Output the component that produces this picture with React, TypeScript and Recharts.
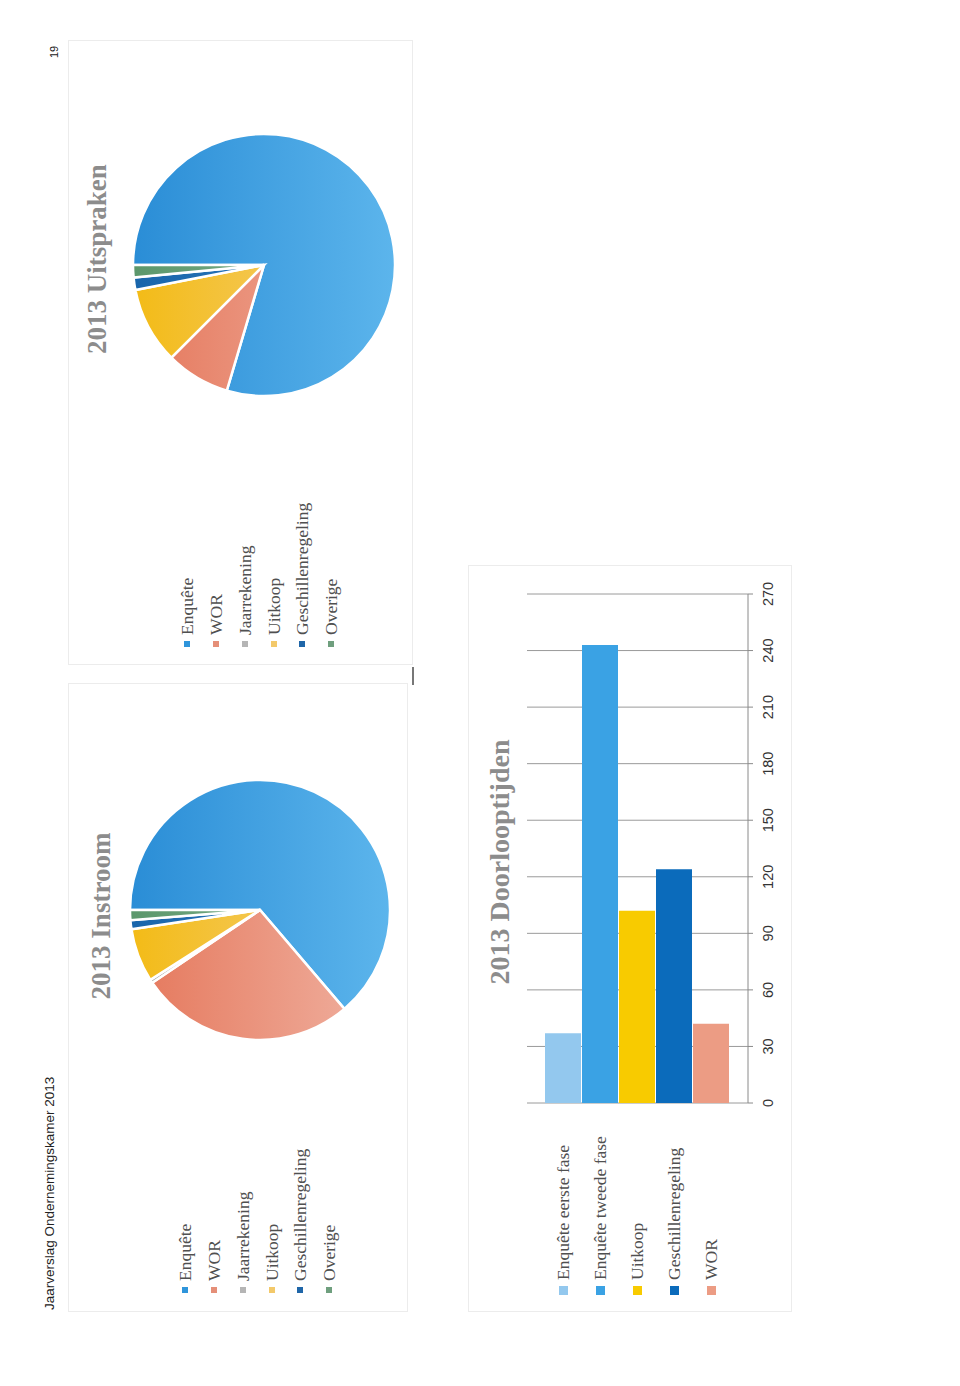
import React from 'react';
import { PieChart, Pie, Cell, BarChart, Bar, XAxis, YAxis, CartesianGrid } from 'recharts';

// ---------- data ----------
const pieCategories = ['Enquête', 'WOR', 'Jaarrekening', 'Uitkoop', 'Geschillenregeling', 'Overige'];
const instroomValues = [229.5, 96.5, 1.5, 24, 4, 4.5];
const uitsprakenValues = [286.5, 28.5, 0, 34, 5.5, 5.5];
const pieColorsDark = ['#2a8dd6', '#e5775b', '#a6a6a6', '#f3bb16', '#1865ab', '#5b976b'];
const pieColorsLight = ['#5cb5ec', '#f0b3a3', '#cccccc', '#f5d184', '#3a82c2', '#8fbb9b'];
const pieLegendColors = ['#2f95db', '#e58f78', '#b5b5b5', '#f3c96a', '#1f66a8', '#6f9f7e'];

const barSeries = ['Enquête eerste fase', 'Enquête tweede fase', 'Uitkoop', 'Geschillenregeling', 'WOR'];
const barValues = [37, 243, 102, 124, 42];
const barColors = ['#93c8ee', '#3aa2e4', '#f8cb00', '#0b6bbb', '#ec9c84'];
const valueTicks = [0, 30, 60, 90, 120, 150, 180, 210, 240, 270];

const headerText = 'Jaarverslag Ondernemingskamer 2013';
const pageNumber = '19';
const titles = ['2013 Instroom', '2013 Uitspraken', '2013 Doorlooptijden'];

// ---------- helpers ----------
const SERIF = '"Liberation Serif", "DejaVu Serif", serif';
const SANS = '"Liberation Sans", Arial, sans-serif';

type PieProps = { id: string; values: number[]; cx: number; cy: number; r: number; w: number; h: number };

function PieBlock({ id, values, cx, cy, r, w, h }: PieProps) {
  const data = pieCategories.map((name, i) => ({ name, value: values[i] }));
  return (
    <PieChart width={w} height={h} margin={{ top: 0, right: 0, bottom: 0, left: 0 }}>
      <defs>
        {pieCategories.map((_, i) => (
          <linearGradient
            key={i}
            id={`${id}-${i}`}
            gradientUnits="userSpaceOnUse"
            x1={0}
            y1={cy - r}
            x2={0}
            y2={cy + r}
          >
            <stop offset="0" stopColor={pieColorsDark[i]} />
            <stop offset="1" stopColor={pieColorsLight[i]} />
          </linearGradient>
        ))}
      </defs>
      <Pie
        data={data}
        dataKey="value"
        nameKey="name"
        cx={cx}
        cy={cy}
        innerRadius={0}
        outerRadius={r}
        startAngle={90}
        endAngle={-270}
        stroke="#ffffff"
        strokeWidth={2.5}
        isAnimationActive={false}
        label={false}
        labelLine={false}
      >
        {data.map((_, i) => (
          <Cell key={i} fill={`url(#${id}-${i})`} />
        ))}
      </Pie>
    </PieChart>
  );
}

type LegendProps = {
  items: string[];
  colors: string[];
  centers: number[];
  left: number;
  marker: number;
  fontSize: number;
};

function TextLegend({ items, colors, centers, left, marker, fontSize }: LegendProps) {
  return (
    <>
      {items.map((t, i) => (
        <div
          key={t}
          style={{
            position: 'absolute',
            left: left,
            top: centers[i] - 12,
            height: 24,
            display: 'flex',
            alignItems: 'center',
            whiteSpace: 'nowrap',
          }}
        >
          <div style={{ width: marker, height: marker, background: colors[i], marginRight: 6 }} />
          <span style={{ fontFamily: SERIF, fontSize, color: '#505050', lineHeight: '24px' }}>{t}</span>
        </div>
      ))}
    </>
  );
}

function Title({ text, cu, cv, size }: { text: string; cu: number; cv: number; size: number }) {
  return (
    <div
      style={{
        position: 'absolute',
        left: cu - 200,
        width: 400,
        top: cv - size / 2,
        height: size,
        lineHeight: `${size}px`,
        textAlign: 'center',
        fontFamily: SERIF,
        fontWeight: 700,
        fontSize: size,
        color: '#8c8c8c',
        whiteSpace: 'nowrap',
      }}
    >
      {text}
    </div>
  );
}

const panelStyle = (l: number, t: number, w: number, h: number): React.CSSProperties => ({
  position: 'absolute',
  left: l,
  top: t,
  width: w,
  height: h,
  border: '1px solid #ececec',
  boxSizing: 'border-box',
  background: '#ffffff',
});

export default function App() {
  const barRow: Record<string, number | string> = { name: '2013' };
  barSeries.forEach((s, i) => {
    barRow[`s${i}`] = barValues[i];
  });
  const barData = [barRow];

  return (
    <div
      style={{
        position: 'absolute',
        left: 0,
        top: 0,
        width: 1386,
        height: 960,
        background: '#ffffff',
        transformOrigin: '0 0',
        transform: 'translateY(1386px) rotate(-90deg)',
        overflow: 'hidden',
      }}
    >
      {/* header */}
      <div
        style={{
          position: 'absolute',
          left: 76,
          top: 40,
          height: 20,
          lineHeight: '20px',
          fontFamily: SANS,
          fontSize: 13.5,
          color: '#222',
          whiteSpace: 'nowrap',
        }}
      >
        {headerText}
      </div>
      <div
        style={{
          position: 'absolute',
          left: 1328,
          top: 46,
          height: 16,
          lineHeight: '16px',
          fontFamily: SANS,
          fontSize: 11,
          color: '#222',
        }}
      >
        {pageNumber}
      </div>

      {/* Instroom panel */}
      <div style={panelStyle(74, 68, 629, 340)}>
        <div style={{ position: 'absolute', left: -1, top: -1 }}>
          <PieBlock id="inst" values={instroomValues} cx={402} cy={192} r={130} w={629} h={340} />
        </div>
      </div>
      <Title text={titles[0]} cu={470} cv={101} size={27} />
      <TextLegend
        items={pieCategories}
        colors={pieLegendColors}
        centers={[185, 214, 243, 271.5, 300, 328.5]}
        left={93}
        marker={6}
        fontSize={17.5}
      />

      {/* Uitspraken panel */}
      <div style={panelStyle(721, 68, 625, 345)}>
        <div style={{ position: 'absolute', left: -1, top: -1 }}>
          <PieBlock id="uits" values={uitsprakenValues} cx={400} cy={196} r={131} w={625} h={345} />
        </div>
      </div>
      <Title text={titles[1]} cu={1127} cv={97} size={27} />
      <TextLegend
        items={pieCategories}
        colors={pieLegendColors}
        centers={[187, 216, 245, 274, 302, 331]}
        left={739}
        marker={6}
        fontSize={17.5}
      />

      {/* Doorlooptijden panel */}
      <div style={panelStyle(74, 468, 747, 324)} />
      <Title text={titles[2]} cu={524} cv={500} size={28} />
      <TextLegend
        items={barSeries}
        colors={barColors}
        centers={[563, 600, 637, 674, 711]}
        left={91}
        marker={9}
        fontSize={17.5}
      />
      <div style={{ position: 'absolute', left: 270, top: 510 }}>
        <BarChart
          width={540}
          height={270}
          data={barData}
          layout="vertical"
          margin={{ top: 17, right: 18, bottom: 0, left: 13 }}
          barCategoryGap={18}
          barGap={1}
        >
          <CartesianGrid horizontal={false} vertical={true} stroke="#9a9a9a" strokeWidth={1} />
          <XAxis
            type="number"
            domain={[0, 270]}
            ticks={valueTicks}
            interval={0}
            height={32}
            axisLine={{ stroke: '#8a8a8a' }}
            tickLine={{ stroke: '#8a8a8a' }}
            tickSize={5}
            tickMargin={10}
            tick={{ fill: '#333333', fontSize: 14.5, fontFamily: SANS }}
          />
          <YAxis type="category" dataKey="name" hide width={0} />
          {barSeries.map((s, i) => (
            <Bar key={s} dataKey={`s${i}`} name={s} fill={barColors[i]} isAnimationActive={false} />
          ))}
        </BarChart>
      </div>

      {/* small scan mark */}
      <div style={{ position: 'absolute', left: 701, top: 412, width: 18, height: 2, background: '#777' }} />
    </div>
  );
}
